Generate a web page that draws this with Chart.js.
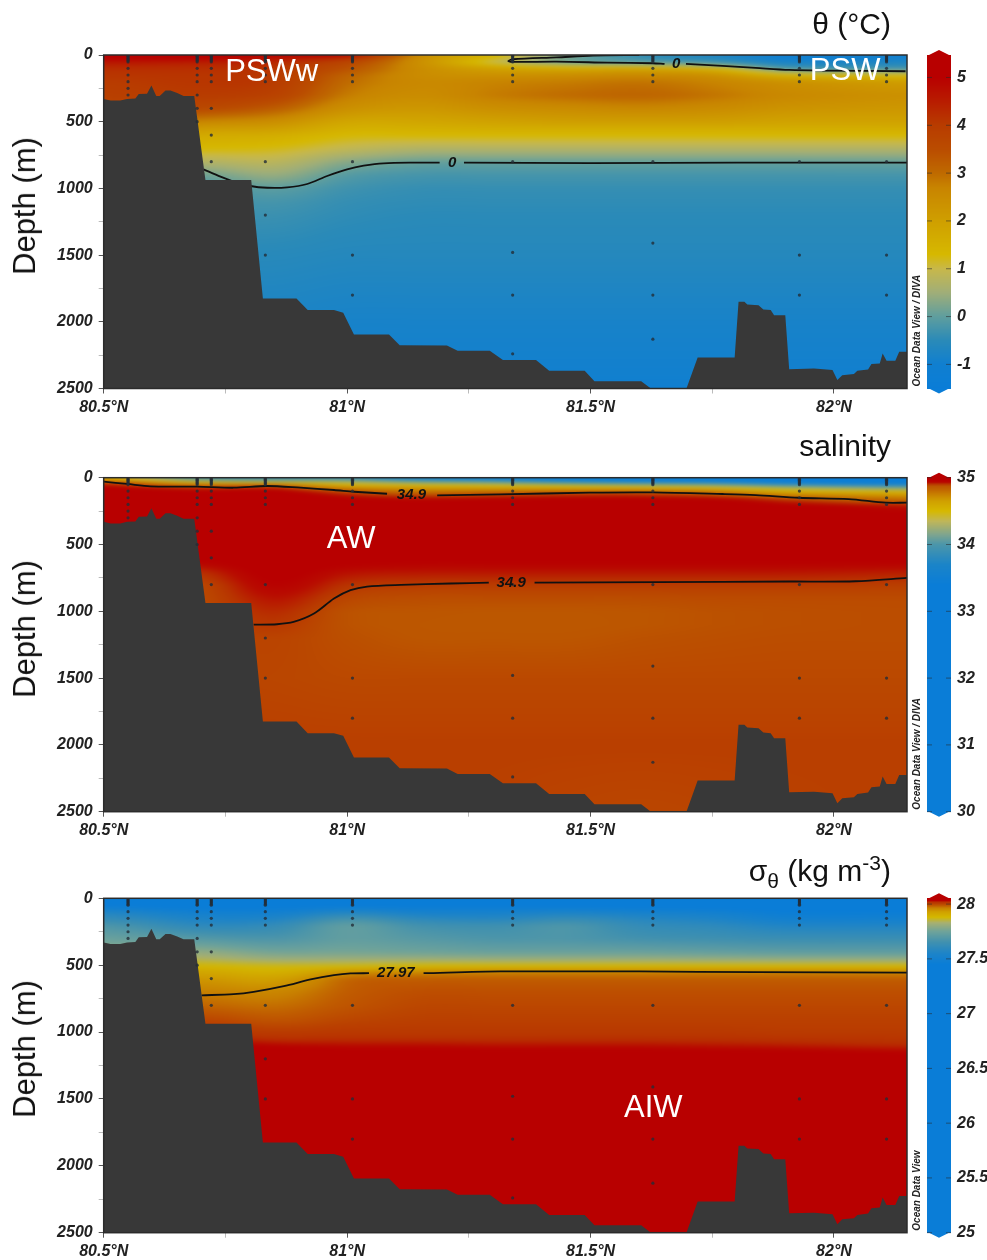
<!DOCTYPE html>
<html>
<head>
<meta charset="utf-8">
<title>Section</title>
<script src="https://cdn.jsdelivr.net/npm/chart.js@4"></script>
<style>
  html, body { margin: 0; padding: 0; background: #fff; }
  body { position: relative; width: 987px; height: 1260px; overflow: hidden; font-family: "Liberation Sans", Arial, sans-serif; color: #111; }
  canvas { position: absolute; left: 0; }
  .panelTitle { position: absolute; right: 96px; font-size: 30px; line-height: 36px; white-space: nowrap; }
  .panelTitle sub { font-size: 21px; line-height: 0; }
  .panelTitle sup { font-size: 21px; line-height: 0; }
  .depthTitle { position: absolute; left: 25px; font-size: 31px; line-height: 36px; white-space: nowrap; transform: translate(-50%, -50%) rotate(-90deg); }
</style>
</head>
<body>
<canvas id="thetaChart" width="987" height="425" style="top:0"></canvas>
<canvas id="salChart" width="987" height="425" style="top:425px"></canvas>
<canvas id="sigmaChart" width="987" height="410" style="top:850px"></canvas>
<div class="panelTitle" style="top:6px">θ (°C)</div>
<div class="panelTitle" style="top:428px">salinity</div>
<div class="panelTitle" style="top:853px">σ<sub>θ</sub> (kg m<sup>-3</sup>)</div>
<div class="depthTitle" style="top:206px">Depth (m)</div>
<div class="depthTitle" style="top:629px">Depth (m)</div>
<div class="depthTitle" style="top:1049px">Depth (m)</div>
<script>
// grid the sections were read on
var gridLats = [80.5, 80.7, 80.85, 81.0, 81.15, 81.3, 81.45, 81.6, 81.75, 81.9, 82.15];
var gridDepths = [0, 25, 50, 75, 100, 150, 200, 300, 400, 500, 550, 600, 700, 800, 900, 1000, 1100, 1200, 1500, 2000, 2500];

var thetaGrid = [
  [5.3, 5.3, 5.0, 4.8, 2.6, 1.4, 0.3, -0.4, -0.7, -1.0, -1.0],
  [5.0, 4.9, 4.6, 4.0, 2.4, 1.2, 0.2, -0.3, -0.6, -1.0, -0.9],
  [4.6, 4.5, 4.3, 3.7, 2.4, 0.9, 0.0, -0.1, -0.3, -0.8, -0.7],
  [4.4, 4.3, 4.2, 3.5, 2.4, 1.5, 1.0, 0.8, 0.4, -0.5, -0.5],
  [4.2, 4.2, 4.1, 3.4, 2.5, 2.0, 1.8, 1.9, 1.5, -0.1, -0.2],
  [4.1, 4.1, 4.0, 3.1, 2.5, 2.4, 2.5, 2.6, 2.4, 1.6, 1.3],
  [4.0, 4.1, 4.0, 3.0, 2.6, 2.7, 2.8, 2.9, 2.7, 2.4, 2.1],
  [3.9, 4.0, 3.8, 2.8, 2.5, 2.8, 3.0, 3.1, 2.9, 2.6, 2.4],
  [3.7, 3.6, 3.2, 2.4, 2.2, 2.4, 2.5, 2.6, 2.5, 2.3, 2.2],
  [3.0, 2.6, 2.4, 1.8, 1.8, 1.9, 2.0, 2.0, 2.0, 1.9, 1.9],
  [2.5, 2.1, 2.0, 1.55, 1.55, 1.6, 1.6, 1.6, 1.6, 1.6, 1.6],
  [2.0, 1.7, 1.6, 1.3, 1.3, 1.3, 1.3, 1.3, 1.3, 1.3, 1.3],
  [1.4, 1.3, 1.2, 0.9, 0.7, 0.7, 0.7, 0.7, 0.7, 0.7, 0.7],
  [0.7, 0.7, 0.8, 0.3, 0.05, 0.03, 0.03, 0.03, 0.03, 0.03, 0.05],
  [0.1, 0.1, 0.4, -0.1, -0.25, -0.25, -0.25, -0.25, -0.25, -0.25, -0.25],
  [-0.2, -0.2, -0.05, -0.3, -0.4, -0.4, -0.4, -0.4, -0.4, -0.4, -0.4],
  [-0.3, -0.3, -0.25, -0.4, -0.45, -0.45, -0.45, -0.45, -0.45, -0.45, -0.45],
  [-0.35, -0.35, -0.35, -0.45, -0.5, -0.5, -0.5, -0.5, -0.5, -0.5, -0.5],
  [-0.55, -0.55, -0.55, -0.6, -0.6, -0.6, -0.6, -0.6, -0.6, -0.6, -0.6],
  [-0.8, -0.8, -0.8, -0.85, -0.85, -0.85, -0.85, -0.85, -0.85, -0.85, -0.85],
  [-1.0, -1.0, -1.0, -1.0, -1.0, -1.0, -1.0, -1.0, -1.0, -1.0, -1.0]
];

var salGrid = [
  [34.55, 33.9, 33.8, 33.8, 33.5, 33.3, 33.1, 33.0, 33.0, 33.0, 33.0],
  [34.85, 34.45, 34.35, 34.3, 34.1, 34.0, 33.7, 33.5, 33.4, 33.3, 33.2],
  [34.93, 34.8, 34.8, 34.55, 34.5, 34.45, 34.4, 34.3, 34.2, 33.9, 33.7],
  [34.97, 34.92, 34.93, 34.75, 34.68, 34.65, 34.62, 34.6, 34.55, 34.4, 34.2],
  [34.98, 34.97, 34.97, 34.88, 34.8, 34.82, 34.85, 34.85, 34.78, 34.6, 34.55],
  [35.0, 34.98, 34.98, 34.96, 34.94, 34.95, 34.96, 34.96, 34.95, 34.88, 34.78],
  [35.0, 35.0, 35.0, 35.0, 34.98, 34.98, 34.98, 34.98, 34.98, 34.96, 34.92],
  [35.0, 35.0, 35.0, 35.0, 35.0, 35.0, 35.0, 35.0, 35.0, 35.0, 34.98],
  [35.0, 35.0, 35.0, 35.0, 35.0, 35.0, 35.0, 35.0, 35.0, 35.0, 35.0],
  [34.99, 34.99, 34.99, 34.99, 34.99, 34.99, 34.99, 34.99, 34.99, 34.99, 34.99],
  [34.98, 34.98, 34.99, 34.98, 34.98, 34.98, 34.98, 34.98, 34.98, 34.98, 34.98],
  [34.96, 34.96, 34.98, 34.97, 34.96, 34.96, 34.96, 34.96, 34.96, 34.96, 34.96],
  [34.9, 34.91, 34.96, 34.93, 34.925, 34.925, 34.925, 34.925, 34.925, 34.925, 34.92],
  [34.885, 34.888, 34.945, 34.905, 34.897, 34.897, 34.897, 34.897, 34.897, 34.897, 34.895],
  [34.88, 34.885, 34.925, 34.888, 34.88, 34.88, 34.88, 34.88, 34.882, 34.882, 34.882],
  [34.88, 34.885, 34.91, 34.875, 34.87, 34.868, 34.868, 34.87, 34.875, 34.878, 34.88],
  [34.88, 34.885, 34.9, 34.875, 34.868, 34.866, 34.866, 34.87, 34.875, 34.878, 34.88],
  [34.885, 34.885, 34.89, 34.878, 34.87, 34.87, 34.87, 34.875, 34.878, 34.88, 34.88],
  [34.89, 34.89, 34.888, 34.885, 34.885, 34.885, 34.885, 34.885, 34.885, 34.885, 34.885],
  [34.895, 34.895, 34.895, 34.895, 34.895, 34.895, 34.895, 34.895, 34.895, 34.895, 34.895],
  [34.895, 34.895, 34.895, 34.895, 34.895, 34.893, 34.89, 34.888, 34.89, 34.893, 34.895]
];

var sigmaGrid = [
  [27.2, 27.2, 27.2, 27.2, 27.2, 27.2, 27.2, 27.2, 27.2, 27.2, 27.2],
  [27.3, 27.3, 27.3, 27.3, 27.3, 27.3, 27.3, 27.3, 27.3, 27.3, 27.3],
  [27.45, 27.4, 27.4, 27.42, 27.42, 27.42, 27.42, 27.42, 27.4, 27.38, 27.38],
  [27.5, 27.45, 27.46, 27.5, 27.48, 27.48, 27.48, 27.46, 27.45, 27.42, 27.42],
  [27.56, 27.5, 27.5, 27.56, 27.52, 27.52, 27.54, 27.52, 27.5, 27.46, 27.46],
  [27.62, 27.55, 27.56, 27.66, 27.6, 27.58, 27.62, 27.58, 27.55, 27.5, 27.5],
  [27.68, 27.6, 27.62, 27.72, 27.66, 27.65, 27.68, 27.62, 27.6, 27.56, 27.56],
  [27.74, 27.7, 27.68, 27.72, 27.7, 27.68, 27.68, 27.66, 27.65, 27.64, 27.64],
  [27.8, 27.8, 27.76, 27.76, 27.75, 27.74, 27.74, 27.74, 27.73, 27.72, 27.72],
  [27.89, 27.88, 27.87, 27.87, 27.88, 27.88, 27.88, 27.88, 27.88, 27.88, 27.88],
  [27.92, 27.92, 27.9, 27.95, 27.96, 27.965, 27.965, 27.965, 27.965, 27.965, 27.962],
  [27.94, 27.94, 27.93, 27.98, 27.985, 27.985, 27.985, 27.985, 27.985, 27.985, 27.985],
  [27.965, 27.965, 27.96, 27.985, 27.995, 27.995, 27.995, 27.995, 27.995, 27.995, 27.995],
  [27.98, 27.98, 27.975, 27.99, 28.0, 28.0, 28.0, 28.0, 28.0, 28.0, 28.0],
  [27.995, 28.0, 27.99, 28.0, 28.005, 28.005, 28.005, 28.005, 28.005, 28.005, 28.005],
  [28.01, 28.015, 28.01, 28.012, 28.012, 28.012, 28.012, 28.012, 28.012, 28.01, 28.01],
  [28.03, 28.035, 28.03, 28.028, 28.028, 28.027, 28.027, 28.027, 28.026, 28.025, 28.022],
  [28.04, 28.04, 28.04, 28.04, 28.04, 28.04, 28.04, 28.04, 28.04, 28.04, 28.04],
  [28.05, 28.05, 28.05, 28.05, 28.05, 28.05, 28.05, 28.05, 28.05, 28.05, 28.05],
  [28.05, 28.05, 28.05, 28.05, 28.05, 28.05, 28.05, 28.05, 28.05, 28.05, 28.05],
  [28.05, 28.05, 28.05, 28.05, 28.05, 28.05, 28.05, 28.05, 28.05, 28.05, 28.05]
];

// colour bars
var thetaStops = [-1.5, -1, -0.5, 0, 0.5, 1, 1.3, 2, 2.7, 3, 3.5, 4, 4.5, 5, 5.5];
var thetaColors = ['#0a7dd7', '#107fd0', '#2a8ab8', '#5f9e9e', '#a0ae78', '#c8b84a', '#d6b800', '#cf9f00', '#c88400', '#bf6a00', '#ba4c00', '#b83c00', '#b81c00', '#b80000', '#b80000'];
var salStops = [30, 33.4, 33.7, 34, 34.15, 34.35, 34.5, 34.65, 34.75, 34.83, 34.87, 34.89, 34.905, 34.93, 34.95, 35.05];
var salColors = ['#0a7dd7', '#0a7dd7', '#1b84c8', '#4b96aa', '#7fa58e', '#c0b658', '#d6b800', '#d0a000', '#c88000', '#c06200', '#bc5600', '#ba4400', '#b83400', '#b80c00', '#b80000', '#b80000'];
var sigmaStops = [25, 27.45, 27.55, 27.65, 27.75, 27.83, 27.88, 27.93, 27.965, 27.985, 28.005, 28.02, 28.03, 28.06];
var sigmaColors = ['#0a7dd7', '#0a7dd7', '#1d84c8', '#3f90b0', '#6fa39a', '#a8b070', '#d4b800', '#d0a000', '#c88000', '#c05c00', '#ba4000', '#b83000', '#b80000', '#b80000'];

// sea floor
var floorLats = [80.5, 80.514, 80.534, 80.548, 80.565, 80.572, 80.589, 80.598, 80.608, 80.615, 80.627, 80.637, 80.651, 80.664, 80.686, 80.709, 80.803, 80.827, 80.896, 80.919, 80.973, 80.992, 81.014, 81.086, 81.108, 81.205, 81.227, 81.293, 81.32, 81.388, 81.415, 81.488, 81.508, 81.604, 81.624, 81.697, 81.72, 81.796, 81.804, 81.816, 81.822, 81.845, 81.855, 81.87, 81.877, 81.9, 81.908, 81.959, 81.997, 82.007, 82.017, 82.041, 82.048, 82.07, 82.077, 82.094, 82.1, 82.108, 82.126, 82.134, 82.15];
var floorDepths = [330, 342, 342, 330, 327, 292, 290, 228, 307, 307, 267, 267, 285, 307, 307, 937, 937, 1825, 1825, 1912, 1912, 1932, 2095, 2095, 2175, 2177, 2217, 2217, 2287, 2287, 2367, 2367, 2445, 2445, 2500, 2500, 2267, 2267, 1850, 1850, 1870, 1875, 1907, 1912, 1950, 1950, 2355, 2350, 2362, 2437, 2400, 2392, 2367, 2357, 2317, 2312, 2237, 2292, 2292, 2225, 2225];

// bottle stations
var stationLats = [80.55, 80.692, 80.721, 80.832, 81.011, 81.34, 81.628, 81.929, 82.108];
var stationDepths = [
  [5, 12, 20, 28, 36, 44, 52, 100, 150, 200, 250, 300],
  [5, 12, 20, 28, 36, 44, 52, 100, 150, 200, 300, 400, 500],
  [5, 12, 20, 28, 36, 44, 52, 100, 150, 200, 400, 600, 800],
  [5, 12, 20, 28, 36, 44, 52, 100, 150, 200, 800, 1200, 1500],
  [5, 12, 20, 28, 36, 44, 52, 100, 150, 200, 800, 1500, 1800],
  [5, 12, 20, 28, 36, 44, 52, 100, 150, 200, 800, 1480, 1800, 2240],
  [5, 12, 20, 28, 36, 44, 52, 100, 150, 200, 800, 1410, 1800, 2130],
  [5, 12, 20, 28, 36, 44, 52, 100, 150, 200, 800, 1500, 1800],
  [5, 12, 20, 28, 36, 44, 52, 100, 150, 200, 800, 1500, 1800]
];

// contour lines, null leaves the gap for the label
var thetaDeepLats = [80.705, 80.74, 80.767, 80.801, 80.836, 80.877, 80.918, 80.959, 81.0, 81.034, 81.075, 81.144, 81.19, 81.216, 81.24, 81.5, 81.8, 82.15];
var thetaDeepDepths = [857, 912, 950, 982, 995, 992, 967, 907, 857, 830, 812, 807, 807, null, 807, 810, 807, 807];
var thetaTopLats = [81.6, 81.505, 81.43, 81.341, 81.331, 81.341, 81.43, 81.534, 81.628, 81.652, 81.676, 81.696, 81.771, 81.839, 81.908, 81.976, 82.147];
var thetaTopDepths = [0, 5, 18, 32, 45, 52, 50, 57, 62, 67, null, 67, 82, 97, 112, 117, 122];
var salTopLats = [80.5, 80.548, 80.596, 80.692, 80.767, 80.836, 80.904, 80.973, 81.014, 81.082, 81.132, 81.185, 81.315, 81.498, 81.628, 81.771, 81.839, 81.928, 82.03, 82.106, 82.15];
var salTopDepths = [30, 47, 65, 67, 75, 62, 75, 92, 105, 120, null, 132, 125, 112, 110, 122, 130, 150, 160, 187, 187];
var salDeepLats = [80.808, 80.856, 80.89, 80.932, 80.973, 81.007, 81.041, 81.11, 81.212, 81.291, 81.337, 81.385, 81.635, 81.908, 82.044, 82.15];
var salDeepDepths = [1100, 1097, 1080, 1017, 905, 842, 815, 802, 792, 785, null, 785, 782, 777, 775, 750];
var sigmaLats = [80.701, 80.767, 80.808, 80.87, 80.925, 80.973, 81.007, 81.045, 81.1, 81.157, 81.315, 81.6, 81.84, 82.15];
var sigmaDepths = [725, 717, 700, 657, 607, 575, 562, 560, null, 560, 547, 547, 552, 555];

// text sitting on the sections: [text, lat, depth]
var thetaContourLabels = [['0', 81.216, 810], ['0', 81.676, 67]];
var salContourLabels = [['34.9', 81.132, 128], ['34.9', 81.337, 785]];
var sigmaContourLabels = [['27.97', 81.1, 560]];
var thetaWaterLabels = [['PSWw', 80.845, 132], ['PSW', 82.023, 125]];
var salWaterLabels = [['AW', 81.008, 460]];
var sigmaWaterLabels = [['AIW', 81.629, 1572]];

var FONT = '"Liberation Sans", Arial, sans-serif';

function xy(lats, depths) {
  return lats.map(function (lat, i) { return { x: lat, y: depths[i] }; });
}

function stationPoints() {
  var pts = [];
  stationLats.forEach(function (lat, i) {
    stationDepths[i].forEach(function (d) { pts.push({ x: lat, y: d }); });
  });
  return pts;
}

function hexToRgb(h) {
  return [parseInt(h.substr(1, 2), 16), parseInt(h.substr(3, 2), 16), parseInt(h.substr(5, 2), 16)];
}

function colorAt(stops, colors, v) {
  if (v <= stops[0]) return hexToRgb(colors[0]);
  for (var i = 1; i < stops.length; i++) {
    if (v <= stops[i]) {
      var t = (v - stops[i - 1]) / (stops[i] - stops[i - 1]);
      var a = hexToRgb(colors[i - 1]), b = hexToRgb(colors[i]);
      return [a[0] + (b[0] - a[0]) * t, a[1] + (b[1] - a[1]) * t, a[2] + (b[2] - a[2]) * t];
    }
  }
  return hexToRgb(colors[colors.length - 1]);
}

function findCell(arr, v) {
  var i = 0;
  while (i < arr.length - 2 && v > arr[i + 1]) i++;
  var t = (v - arr[i]) / (arr[i + 1] - arr[i]);
  return [i, Math.max(0, Math.min(1, t))];
}

// catmull-rom across the section, straight between depths
function rowValue(row, i, t) {
  var p0 = row[Math.max(i - 1, 0)], p1 = row[i], p2 = row[i + 1], p3 = row[Math.min(i + 2, row.length - 1)];
  return p1 + 0.5 * t * (p2 - p0 + t * (2 * p0 - 5 * p1 + 4 * p2 - p3 + t * (3 * p1 - p0 - 3 * p2 + p3)));
}

function fieldAt(grid, lat, depth) {
  var cx = findCell(gridLats, lat), cy = findCell(gridDepths, depth);
  var a = rowValue(grid[cy[0]], cx[0], cx[1]);
  var b = rowValue(grid[cy[0] + 1], cx[0], cx[1]);
  return a + (b - a) * cy[1];
}

// axis labels must not push the plot area in, the frame sits at fixed places
function noScalePadding(s) {
  s.paddingTop = 0; s.paddingBottom = 0; s.paddingLeft = 0; s.paddingRight = 0;
}

var sectionPlugin = {
  id: 'section',
  // the shaded field under all datasets
  beforeDatasetsDraw: function (chart, args, opts) {
    var area = chart.chartArea, sx = chart.scales.x, sy = chart.scales.y, ctx = chart.ctx;
    var pad = 8;
    if (!chart.$field) {
      var w = Math.ceil(area.width) + 2 * pad, h = Math.ceil(area.height) + 2 * pad;
      var off = document.createElement('canvas');
      off.width = w; off.height = h;
      var octx = off.getContext('2d');
      var img = octx.createImageData(w, h);
      for (var py = 0; py < h; py++) {
        var depth = sy.getValueForPixel(area.top - pad + py);
        for (var px = 0; px < w; px++) {
          var lat = sx.getValueForPixel(area.left - pad + px);
          var c = colorAt(opts.stops, opts.colors, fieldAt(opts.grid, lat, depth));
          var k = (py * w + px) * 4;
          img.data[k] = c[0]; img.data[k + 1] = c[1]; img.data[k + 2] = c[2]; img.data[k + 3] = 255;
        }
      }
      octx.putImageData(img, 0, 0);
      chart.$field = off;
    }
    ctx.save();
    ctx.beginPath();
    ctx.rect(area.left, area.top, area.width, area.height);
    ctx.clip();
    ctx.filter = 'blur(2px)';
    ctx.drawImage(chart.$field, area.left - pad, area.top - pad);
    ctx.restore();
  },
  afterDraw: function (chart, args, opts) {
    var area = chart.chartArea, sx = chart.scales.x, sy = chart.scales.y, sv = chart.scales.v, ctx = chart.ctx;
    ctx.save();
    // frame
    ctx.strokeStyle = '#2b2b2b';
    ctx.lineWidth = 1.5;
    ctx.strokeRect(area.left, area.top, area.width, area.height);
    // contour labels
    ctx.fillStyle = '#111';
    ctx.textAlign = 'center';
    ctx.textBaseline = 'middle';
    ctx.font = 'italic bold 15px ' + FONT;
    opts.contourLabels.forEach(function (l) {
      ctx.fillText(l[0], sx.getPixelForValue(l[1]), sy.getPixelForValue(l[2]));
    });
    // water masses
    ctx.fillStyle = '#fff';
    ctx.font = '31px ' + FONT;
    opts.waterLabels.forEach(function (l) {
      ctx.fillText(l[0], sx.getPixelForValue(l[1]), sy.getPixelForValue(l[2]));
    });
    // credit
    ctx.save();
    ctx.translate(area.right + 10, area.bottom - 2);
    ctx.rotate(-Math.PI / 2);
    ctx.fillStyle = '#222';
    ctx.font = 'italic bold 10px ' + FONT;
    ctx.textAlign = 'left';
    ctx.fillText(opts.credit, 0, 0);
    ctx.restore();
    // colour bar
    var left = 927, right = 951, mid = (left + right) / 2;
    var topY = sv.getPixelForValue(sv.max), botY = sv.getPixelForValue(sv.min);
    for (var py = Math.floor(topY); py < Math.ceil(botY); py++) {
      var c = colorAt(opts.stops, opts.colors, sv.getValueForPixel(py + 0.5));
      ctx.fillStyle = 'rgb(' + Math.round(c[0]) + ',' + Math.round(c[1]) + ',' + Math.round(c[2]) + ')';
      ctx.fillRect(left, py, right - left, 1);
    }
    ctx.fillStyle = opts.colors[opts.colors.length - 1];
    ctx.beginPath();
    ctx.moveTo(left, topY + 1); ctx.lineTo(mid, topY - 5); ctx.lineTo(right, topY + 1);
    ctx.fill();
    ctx.fillStyle = opts.colors[0];
    ctx.beginPath();
    ctx.moveTo(left, botY - 1); ctx.lineTo(mid, botY + 5); ctx.lineTo(right, botY - 1);
    ctx.fill();
    ctx.strokeStyle = 'rgba(40,40,40,0.55)';
    ctx.lineWidth = 1;
    sv.ticks.forEach(function (t) {
      var y = sv.getPixelForValue(t.value);
      ctx.beginPath();
      ctx.moveTo(left, y); ctx.lineTo(left + 5, y);
      ctx.moveTo(right - 5, y); ctx.lineTo(right, y);
      ctx.stroke();
    });
    ctx.restore();
  }
};

function makePanel(id, p) {
  var tickFont = { family: FONT, size: 16, style: 'italic', weight: 'bold' };
  var datasets = [
    { label: 'bottles', data: stationPoints(), pointRadius: 1.6, pointBackgroundColor: 'rgba(35,45,55,0.8)', pointBorderWidth: 0 },
    { label: 'sea floor', data: xy(floorLats, floorDepths), showLine: true, pointRadius: 0, borderWidth: 0, borderColor: '#383838', backgroundColor: '#383838', fill: { value: 2500 } }
  ];
  p.contours.forEach(function (c) {
    datasets.push({ label: 'contour', data: xy(c[0], c[1]), showLine: true, spanGaps: false, pointRadius: 0, borderWidth: 1.8, borderColor: '#111', tension: 0.3, fill: false });
  });
  return new Chart(document.getElementById(id), {
    type: 'scatter',
    data: { datasets: datasets },
    plugins: [sectionPlugin],
    options: {
      responsive: false,
      animation: false,
      events: [],
      layout: { padding: { top: p.top, left: 0, right: 0, bottom: 0 } },
      plugins: {
        legend: { display: false },
        tooltip: { enabled: false },
        section: { grid: p.grid, stops: p.stops, colors: p.colors, contourLabels: p.contourLabels, waterLabels: p.waterLabels, credit: p.credit }
      },
      scales: {
        x: {
          type: 'linear', min: 80.5, max: 82.15,
          afterFit: function (s) { s.height = p.axisH; noScalePadding(s); },
          border: { display: false },
          grid: {
            drawOnChartArea: false, tickLength: 5,
            tickColor: function (c) { return c.tick && Math.abs(c.tick.value * 2 - Math.round(c.tick.value * 2)) < 1e-6 ? '#555' : '#bbb'; }
          },
          ticks: {
            stepSize: 0.25, includeBounds: false, autoSkip: false, maxRotation: 0, padding: 4, color: '#222', font: tickFont,
            callback: function (v) { return Math.abs(v * 2 - Math.round(v * 2)) < 1e-6 ? v + '°N' : ''; }
          }
        },
        y: {
          type: 'linear', reverse: true, min: 0, max: 2500,
          afterFit: function (s) { s.width = 103.7; noScalePadding(s); },
          border: { display: false },
          grid: {
            drawOnChartArea: false, tickLength: 5,
            tickColor: function (c) { return c.tick && c.tick.value % 500 === 0 ? '#555' : '#bbb'; }
          },
          ticks: {
            stepSize: 250, includeBounds: false, autoSkip: false, padding: 6, color: '#222', font: tickFont,
            callback: function (v) { return v % 500 === 0 ? v : ''; }
          }
        },
        v: {
          type: 'linear', position: 'right', min: p.vMin, max: p.vMax,
          afterFit: function (s) { s.width = 80; noScalePadding(s); },
          border: { display: false },
          grid: { display: false, drawTicks: false },
          ticks: {
            stepSize: p.vStep, includeBounds: false, autoSkip: false, padding: 50, color: '#222', font: tickFont,
            callback: function (v) { return String(v); }
          }
        }
      }
    }
  });
}

makePanel('thetaChart', {
  top: 55, axisH: 36.5, grid: thetaGrid, stops: thetaStops, colors: thetaColors,
  vMin: -1.504, vMax: 5.47, vStep: 1,
  contours: [[thetaDeepLats, thetaDeepDepths], [thetaTopLats, thetaTopDepths]],
  contourLabels: thetaContourLabels, waterLabels: thetaWaterLabels, credit: 'Ocean Data View / DIVA'
});
makePanel('salChart', {
  top: 52.7, axisH: 38.3, grid: salGrid, stops: salStops, colors: salColors,
  vMin: 30, vMax: 35, vStep: 1,
  contours: [[salTopLats, salTopDepths], [salDeepLats, salDeepDepths]],
  contourLabels: salContourLabels, waterLabels: salWaterLabels, credit: 'Ocean Data View / DIVA'
});
makePanel('sigmaChart', {
  top: 48.3, axisH: 27.3, grid: sigmaGrid, stops: sigmaStops, colors: sigmaColors,
  vMin: 25, vMax: 28.053, vStep: 0.5,
  contours: [[sigmaLats, sigmaDepths]],
  contourLabels: sigmaContourLabels, waterLabels: sigmaWaterLabels, credit: 'Ocean Data View'
});
</script>
</body>
</html>
